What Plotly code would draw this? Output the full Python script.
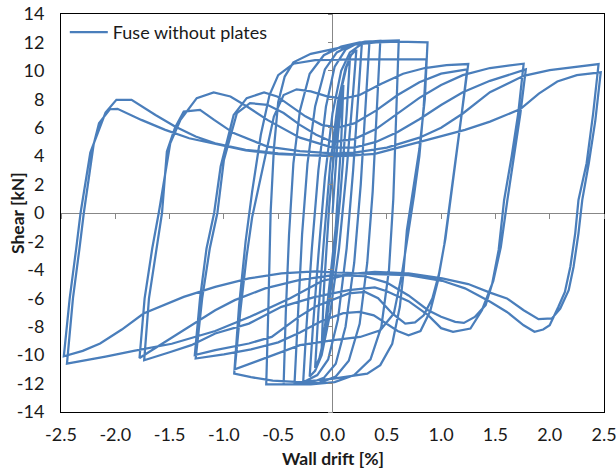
import plotly.graph_objects as go

# Cyclic test record: wall drift [%] vs. shear [kN], one branch list per amplitude group.
# Small cycles (+/-0.10 ... +/-0.61)
drift_small = [0.0, 0.05, 0.10,
               0.08, 0.03, -0.03, -0.07, -0.10,
               -0.08, -0.03, 0.03, 0.09, 0.13, 0.16,
               0.13, 0.07, 0.0, -0.07, -0.12, -0.16,
               -0.13, -0.08, -0.02, 0.05, 0.12, 0.17, 0.22,
               0.19, 0.13, 0.06, -0.02, -0.10, -0.16, -0.21,
               -0.18, -0.13, -0.07, 0.0, 0.08, 0.16, 0.27,
               0.24, 0.19, 0.13, 0.05, -0.04, -0.14, -0.27,
               -0.24, -0.19, -0.13, -0.06, 0.02, 0.12, 0.22, 0.34,
               0.31, 0.26, 0.20, 0.12, 0.03, -0.08, -0.20, -0.35,
               -0.32, -0.28, -0.23, -0.16, -0.07, 0.04, 0.18, 0.30, 0.44,
               0.41, 0.37, 0.32, 0.25, 0.15, 0.03, -0.12, -0.28, -0.45,
               -0.43, -0.40, -0.36, -0.30, -0.21, -0.08, 0.08, 0.25, 0.40, 0.61,
               0.59, 0.56, 0.52, 0.45, 0.35, 0.20, 0.02, -0.20, -0.40, -0.61]
shear_small = [0.0, 5.5, 9.0,
               5.0, -1.0, -5.5, -8.0, -9.6,
               -5.5, 0.5, 5.5, 9.0, 10.3, 10.8,
               7.0, 1.0, -4.5, -8.5, -10.2, -10.9,
               -7.0, -2.0, 3.5, 7.8, 10.2, 11.1, 11.5,
               8.5, 3.0, -2.5, -7.0, -10.0, -11.1, -11.5,
               -8.0, -3.0, 2.5, 7.0, 10.0, 11.3, 11.9,
               8.5, 3.0, -2.5, -7.5, -10.3, -11.4, -11.9,
               -8.0, -2.5, 3.0, 7.5, 10.3, 11.5, 11.9, 12.0,
               8.0, 2.0, -3.5, -8.0, -10.6, -11.6, -11.95, -12.05,
               -7.5, -1.5, 3.5, 7.5, 10.1, 11.3, 11.85, 12.05, 12.1,
               7.5, 1.5, -3.5, -7.8, -10.4, -11.5, -11.95, -12.05, -12.05,
               -7.0, -1.5, 3.5, 7.2, 9.8, 11.1, 11.7, 12.0, 12.1, 12.15,
               7.0, 1.0, -4.0, -8.0, -10.3, -11.4, -11.9, -12.05, -12.05, -12.05]

# Cycles at +/-0.88
drift_088 = [-0.59, -0.57, -0.54, -0.50, -0.44, -0.36, -0.20, 0.0, 0.2, 0.40, 0.60, 0.875,
             0.85, 0.80, 0.74, 0.685, 0.65, 0.62, 0.55, 0.44, 0.32, 0.01, -0.30, -0.55, -0.75, -0.905,
             -0.86, -0.80, -0.74, -0.66, -0.58, -0.50, -0.36, -0.16, 0.2, 0.5, 0.865,
             0.84, 0.80, 0.75, 0.70, 0.64, 0.565, 0.44, 0.255, 0.01, -0.30, -0.55, -0.75, -0.90,
             -0.85, -0.79, -0.74, -0.68, -0.61, -0.54, -0.45, -0.33, -0.20, -0.05, 0.10, 0.25, 0.45,
             0.65, 0.85, 1.05, 1.25]
shear_088 = [-6.5, 0.0, 4.5, 7.8, 9.6, 10.6, 11.2, 11.55, 11.85, 12.0, 12.05, 12.0,
             8.0, 4.5, 1.5, -1.2, -4.5, -6.6, -9.2, -10.7, -11.3, -11.65, -11.9, -11.8, -11.55, -11.3,
             -6.5, -2.0, 1.5, 5.5, 8.3, 9.7, 10.5, 10.75, 10.8, 10.8, 10.8,
             7.5, 4.0, 1.2, -1.2, -4.25, -7.07, -8.25, -8.72, -8.95, -9.3, -10.0, -10.6, -11.0,
             -7.0, -3.0, -0.3, 1.85, 4.5, 6.79, 8.3, 8.7, 8.55, 8.2, 8.05, 8.3, 9.1,
             9.8, 10.2, 10.4, 10.48]

# Cycles at +/-1.25
drift_125 = [1.20, 1.15, 1.09, 1.04, 0.98, 0.92, 0.84, 0.76, 0.67, 0.55, 0.42, 0.30, 0.15, 0.0,
             -0.16, -0.31, -0.56, -0.77, -1.08, -1.268,
             -1.22, -1.16, -1.09, -1.03, -0.91, -0.79, -0.63, -0.51, -0.38, -0.25, -0.10, 0.05,
             0.2, 0.4, 0.6, 0.8, 1.0, 1.24,
             1.19, 1.14, 1.08, 1.03, 0.97, 0.90, 0.81, 0.70, 0.60, 0.50, 0.38, 0.25, 0.10,
             -0.10, -0.30, -0.50, -0.75, -1.00, -1.26,
             -1.20, -1.13, -1.06, -1.0, -0.88, -0.76, -0.60, -0.45, -0.30, -0.15, 0.0,
             0.2, 0.4, 0.6, 0.8, 1.0, 1.2, 1.45, 1.76]
shear_125 = [7.5, 4.5, 1.0, -1.8, -4.3, -6.0, -7.2, -7.7, -7.78, -7.07, -6.0, -5.55, -5.66, -6.13,
             -6.6, -7.31, -8.72, -9.18, -9.65, -10.0,
             -6.0, -2.5, 0.0, 3.27, 6.9, 8.08, 8.48, 8.2, 7.5, 6.8, 6.2, 6.0,
             6.3, 7.2, 8.3, 9.2, 9.8, 10.1,
             7.0, 4.0, 0.5, -2.2, -4.8, -6.9, -8.3, -8.6, -8.3, -7.8, -7.2, -6.95, -7.05,
             -7.6, -8.4, -9.1, -9.6, -9.95, -10.24,
             -6.0, -2.5, 0.0, 3.73, 7.03, 7.73, 7.61, 7.03, 6.2, 5.5, 5.0,
             5.2, 5.9, 7.0, 8.1, 9.0, 9.7, 10.2, 10.5]

# Cycles at +/-1.75
drift_175 = [1.71, 1.65, 1.58, 1.53, 1.47, 1.41, 1.31, 1.21, 1.13, 1.0, 0.88, 0.7, 0.5, 0.3, 0.0,
             -0.31, -0.62, -0.9, -1.08, -1.3, -1.55, -1.777,
             -1.73, -1.66, -1.60, -1.55, -1.494, -1.40, -1.25, -1.094, -0.94, -0.787, -0.60, -0.30, 0.0,
             0.2, 0.4, 0.6, 0.8, 1.0, 1.2, 1.45, 1.78,
             1.73, 1.67, 1.61, 1.55, 1.48, 1.376, 1.27, 1.11, 1.0, 0.88, 0.7, 0.5, 0.39, 0.15,
             -0.16, -0.47, -0.77, -1.08, -1.3, -1.5, -1.734,
             -1.69, -1.62, -1.57, -1.525, -1.45, -1.37, -1.22, -1.09, -0.91, -0.60, -0.30, 0.0,
             0.2, 0.5, 0.8, 1.0, 1.2, 1.45, 1.76, 2.0, 2.22, 2.45]
shear_175 = [7.0, 4.0, 0.9, -2.6, -5.0, -6.48, -7.31, -7.73, -7.66, -7.3, -6.84, -5.8, -4.9, -4.45, -4.37,
             -4.72, -5.3, -6.13, -6.84, -7.9, -9.1, -10.2,
             -6.0, -2.5, 0.0, 2.3, 4.91, 6.55, 8.08, 8.48, 8.2, 7.49, 6.55, 5.3, 4.6,
             4.6, 5.0, 5.7, 6.6, 7.6, 8.5, 9.3, 10.1,
             7.0, 4.0, 0.9, -2.4, -4.8, -6.84, -8.13, -8.36, -8.1, -7.19, -6.2, -5.5, -5.24, -5.43,
             -5.9, -6.6, -7.78, -8.48, -9.3, -9.8, -10.36,
             -6.0, -2.5, 0.0, 4.32, 6.0, 7.14, 7.26, 6.55, 5.62, 4.67, 4.35, 4.2,
             4.25, 4.6, 5.3, 6.0, 7.0, 8.5, 9.65, 10.05, 10.24, 10.48]

# Cycles at +/-2.5
drift_250 = [2.40, 2.34, 2.265, 2.235, 2.19, 2.14, 2.08, 2.0, 1.94, 1.86, 1.76, 1.606, 1.452, 1.22,
             1.01, 0.70, 0.39, 0.0, -0.16, -0.47, -0.77, -1.08, -1.37, -1.74, -1.94, -2.14, -2.30, -2.474,
             -2.42, -2.36, -2.32, -2.23, -2.09, -1.99, -1.85, -1.63, -1.45, -1.26, -1.08, -0.8, -0.5,
             -0.2, 0.0, 0.2, 0.39, 0.70, 1.01, 1.22, 1.45, 1.73, 1.9, 2.07, 2.25, 2.47,
             2.42, 2.36, 2.30, 2.265, 2.22, 2.175, 2.097, 2.02, 1.897, 1.76, 1.606, 1.45, 1.25,
             1.01, 0.70, 0.39, 0.15, -0.1, -0.39, -0.76, -1.08, -1.48, -1.83, -2.09, -2.445,
             -2.39, -2.33, -2.29, -2.20, -2.15, -2.05, -1.98, -1.76, -1.54, -1.32, -1.08, -0.8,
             -0.5, -0.2, 0.1, 0.3]
shear_250 = [7.0, 3.5, 0.92, -1.43, -3.78, -5.55, -6.6, -7.9, -8.2, -8.36, -7.9, -6.96, -6.25, -5.3,
             -4.77, -4.37, -4.3, -4.15, -4.1, -4.25, -4.6, -5.2, -5.9, -7.07, -8.2, -9.18, -9.7, -10.08,
             -6.0, -2.5, 0.0, 4.25, 7.07, 7.96, 7.96, 6.9, 6.08, 5.38, 4.9, 4.45, 4.2,
             4.05, 4.0, 4.05, 4.16, 4.79, 5.4, 5.85, 6.43, 7.31, 8.4, 9.25, 9.7, 9.9,
             6.5, 3.5, 0.92, -1.43, -3.78, -5.43, -6.72, -7.42, -7.47, -6.84, -6.01, -5.6, -5.0,
             -4.6, -4.25, -4.14, -4.3, -4.8, -6.0, -7.3, -8.3, -9.2, -9.7, -10.1, -10.59,
             -6.0, -2.5, 0.0, 4.8, 6.32, 7.3, 7.33, 6.55, 5.85, 5.26, 4.86, 4.4,
             4.15, 4.05, 4.05, 4.1]

x_ticks = [-2.5, -2.0, -1.5, -1.0, -0.5, 0.0, 0.5, 1.0, 1.5, 2.0, 2.5]
x_tick_text = ["-2.5", "-2.0", "-1.5", "-1.0", "-0.5", "0.0", "0.5", "1.0", "1.5", "2.0", "2.5"]
y_ticks = [-14, -12, -10, -8, -6, -4, -2, 0, 2, 4, 6, 8, 10, 12, 14]
y_tick_text = ["-14", "-12", "-10", "-8", "-6", "-4", "-2", "0", "2", "4", "6", "8", "10", "12", "14"]

drift = drift_small + drift_088 + drift_125 + drift_175 + drift_250
shear = shear_small + shear_088 + shear_125 + shear_175 + shear_250

FONT = "Lato"
BLUE = "#4A7EBB"
GREY = "#878787"
TEXT = "#1a1a1a"

fig = go.Figure()
fig.add_trace(go.Scatter(
    x=drift, y=shear, mode="lines", name="Fuse without plates",
    line=dict(color=BLUE, width=2.25),
))
# empty trace so the overlaid axes that carry the tick marks on the zero lines get drawn
fig.add_trace(go.Scatter(x=[None], y=[None], xaxis="x2", yaxis="y2",
                         showlegend=False, hoverinfo="skip"))

title_font = dict(family=FONT, size=17.5, weight="bold", color=TEXT)

fig.update_layout(
    width=616, height=470,
    margin=dict(l=61, r=12, t=14, b=58, autoexpand=False),
    paper_bgcolor="white", plot_bgcolor="white",
    font=dict(family=FONT, size=18, color=TEXT),
    showlegend=True,
    legend=dict(x=0.007, y=1.0, xanchor="left", yanchor="top", itemwidth=38,
                bgcolor="rgba(0,0,0,0)", font=dict(family=FONT, size=18, color=TEXT)),
    xaxis=dict(
        range=[-2.5, 2.5], tickvals=x_ticks, ticktext=x_tick_text,
        showline=True, linecolor="#000000", linewidth=1, mirror=True,
        ticks="", showgrid=False, automargin=False, ticklabelstandoff=6,
        ticklabeloverflow="allow",
        zeroline=True, zerolinecolor=GREY, zerolinewidth=1,
    ),
    yaxis=dict(
        range=[-14, 14], tickvals=y_ticks, ticktext=y_tick_text,
        showline=True, linecolor="#000000", linewidth=1, mirror=True,
        ticks="", showgrid=False, automargin=False, ticklabelstandoff=12,
        ticklabeloverflow="allow",
        zeroline=True, zerolinecolor=GREY, zerolinewidth=1,
    ),
    xaxis2=dict(
        overlaying="x", anchor="free", position=0.5, range=[-2.5, 2.5],
        tickvals=x_ticks, ticks="outside", ticklen=5, tickcolor=GREY, tickwidth=1,
        showticklabels=False, showline=False, showgrid=False, zeroline=False,
    ),
    yaxis2=dict(
        overlaying="y", anchor="free", position=0.5, side="left", range=[-14, 14],
        tickvals=y_ticks, ticks="outside", ticklen=5, tickcolor=GREY, tickwidth=1,
        showticklabels=False, showline=False, showgrid=False, zeroline=False,
    ),
    annotations=[
        dict(text="Wall drift [%]", xref="paper", yref="paper", x=0.5, y=-0.116,
             xanchor="center", yanchor="middle", showarrow=False, font=title_font),
        dict(text="Shear [kN]", xref="paper", yref="paper", x=-0.081, y=0.5,
             xanchor="center", yanchor="middle", textangle=-90, showarrow=False, font=title_font),
    ],
)

fig.write_html("out.html")
